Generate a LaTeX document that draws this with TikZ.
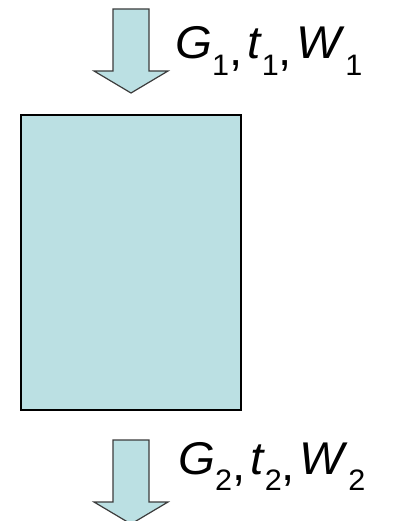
\documentclass[tikz,border=0pt]{standalone}
\usepackage{fontspec}
\usepackage{graphicx}
\setmainfont{Liberation Sans}
\definecolor{boxfill}{RGB}{187,224,227}
\definecolor{arrowline}{RGB}{60,60,60}
\newcommand{\subd}[1]{\raisebox{-16pt}{\fontsize{29}{29}\selectfont #1}}
\newcommand{\lowcomma}{\raisebox{-6pt}{,}}
\newcommand{\lbl}[3]{\scalebox{1.055}[1.02]{\textit{G}\subd{#1}\lowcomma\hspace{0.1em}\textit{t}\subd{#2}\lowcomma\hspace{0.1em}\textit{W}\subd{#3}}}
\tikzset{
  flowarrow/.style={draw=arrowline, fill=boxfill, line width=1.2pt, line join=miter},
  vessel/.style={draw=black, fill=boxfill, line width=1.6pt, minimum width=220pt, minimum height=295pt, inner sep=0pt, outer sep=0pt},
  flowlabel/.style={anchor=base west, inner sep=0pt, font=\fontsize{45}{45}\selectfont}
}
\begin{document}
\begin{tikzpicture}[x=1pt,y=-1pt]
\useasboundingbox (0,0) rectangle (392,521);
\clip (0,0) rectangle (392,521);
\node[vessel] (box) at (131,262.5) {};
\draw[flowarrow] (113,9) -- (149,9) -- (149,71) -- (168,71) -- (131,93) -- (94,71) -- (113,71) -- cycle;
\draw[flowarrow] (113,440) -- (149,440) -- (149,502) -- (168,502) -- (131,524) -- (94,502) -- (113,502) -- cycle;
\node[flowlabel] (inlabel) at (175,59) {\lbl{1}{1}{1}};
\node[flowlabel] (outlabel) at (178,474) {\lbl{2}{2}{2}};
\end{tikzpicture}
\end{document}
